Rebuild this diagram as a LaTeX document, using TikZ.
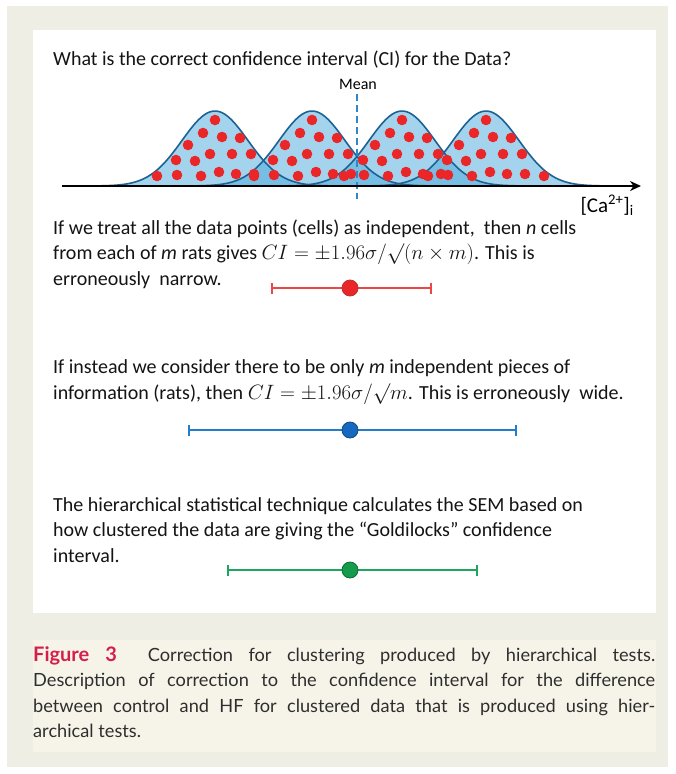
\documentclass[tikz,border=0pt]{standalone}
\usepackage{fontspec}
\setmainfont{Carlito}
\newfontfamily\capfont{Lato}
\usetikzlibrary{arrows.meta,positioning}
\definecolor{pagebeige}{RGB}{239,238,228}
\definecolor{capbeige}{RGB}{246,244,233}
\definecolor{curvefill}{RGB}{75,170,220}
\definecolor{curveline}{RGB}{28,98,148}
\definecolor{cellred}{RGB}{235,38,40}
\definecolor{meanblue}{RGB}{45,135,200}
\definecolor{narrowred}{RGB}{236,70,70}
\definecolor{wideblue}{RGB}{35,125,200}
\definecolor{dotblue}{RGB}{22,105,190}
\definecolor{goldgreen}{RGB}{30,165,95}
\definecolor{dotgreen}{RGB}{20,155,75}
\definecolor{figcrimson}{RGB}{214,30,75}
% cells drawn under every bump, offsets from the peak
\newcommand{\cellpattern}{0/120, -12/133, 7/137, 25/138, -27/145, -5/154,
  17/154, 36/154, -39/160, -20/161, -58/176, -38/175, -14/176, 4/172,
  21/174, 39/174}
\begin{document}
\begin{tikzpicture}[x=1pt, y=-1pt,
  txt/.style={anchor=base west, align=left, inner sep=0pt, text=black!92,
              font=\fontsize{20}{25.5}\selectfont},
  bumpfill/.style={fill=curvefill, fill opacity=0.5},
  bumpline/.style={draw=curveline, line width=1.6pt},
  cell/.style={fill=cellred},
  cibar/.style={line width=1.6pt, {Bar[width=11pt]}-{Bar[width=11pt]}},
  cidot/.style={circle, inner sep=0pt, minimum size=16pt, line width=0.8pt}]

\useasboundingbox (0,0) rectangle (675,774);
\fill[white] (0,0) rectangle (675,774);
\fill[pagebeige] (7,6) rectangle (668,767);
\fill[white] (33,30) rectangle (656,613);
\fill[capbeige] (33,640) rectangle (656,752);

% ---- question and the four clustered bumps ------------------------------
\node[txt] (title) at (53,65)
  {What is the correct confidence interval (CI) for the Data?};
\node[anchor=base, inner sep=0pt, font=\fontsize{16}{18}\selectfont]
  (mean) at (358,89) {Mean};

\foreach \c in {215,312,402,486}
  \fill[bumpfill] plot[domain=-130:130, samples=90, smooth]
    ({\c+\x},{186-75*exp(-0.5*(\x/33)^2)}) -- cycle;
\foreach \c in {215,312,402,486}
  \draw[bumpline] plot[domain=-130:130, samples=90, smooth]
    ({\c+\x},{186-75*exp(-0.5*(\x/33)^2)});
\foreach \c in {215,312,402,486}
  \foreach \dx/\dy in \cellpattern
    \fill[cell] (\c+\dx,\dy) circle (5.3);
\fill[cell] (544,176) circle (5.3);

\coordinate (meantop) at (357,94);
\coordinate (meanbot) at (357,199);
\draw[meanblue, line width=2.8pt, dash pattern=on 7pt off 4pt]
  (meantop) -- (meanbot);

\coordinate (axl) at (62,186);
\coordinate (axr) at (641,186);
\draw[line width=2.4pt, -{Stealth[length=11pt,width=10pt]}] (axl) -- (axr);
\node[anchor=base east, inner sep=0pt, font=\fontsize{21}{24}\selectfont]
  (calab) at (634,212) {[Ca\textsuperscript{2+}]\textsubscript{i}};

% ---- three ways of counting, three intervals ----------------------------
\node[txt] (p1) at (53,285)
  {If we treat all the data points (cells) as independent,\ \ then \textit{n} cells\\
   from each of \textit{m} rats gives $CI=\pm1.96\sigma/\surd(n\times m)$. This is\\
   erroneously\ \ narrow.};
\coordinate (n1) at (271,288);
\coordinate (n2) at (432,288);
\draw[cibar, narrowred] (n1) -- (n2);
\node[cidot, fill=cellred, draw=narrowred!75!black] (ndot) at (350,288) {};

\node[txt] (p2) at (53,399)
  {If instead we consider there to be only \textit{m} independent pieces of\\
   information (rats), then $CI=\pm1.96\sigma/\surd m$. This is erroneously\ \ wide.};
\coordinate (w1) at (188,430);
\coordinate (w2) at (517,430);
\draw[cibar, wideblue] (w1) -- (w2);
\node[cidot, fill=dotblue, draw=dotblue!70!black] (wdot) at (350,430) {};

\node[txt] (p3) at (53,562)
  {The hierarchical statistical technique calculates the SEM based on\\
   how clustered the data are giving the ``Goldilocks'' confidence\\
   interval.};
\coordinate (g1) at (227,570);
\coordinate (g2) at (478,570);
\draw[cibar, goldgreen] (g1) -- (g2);
\node[cidot, fill=dotgreen, draw=dotgreen!70!black] (gdot) at (350,570) {};

% ---- caption -------------------------------------------------------------
\node[anchor=base west, inner sep=0pt, text width=622pt, align=justify,
      text=black!82, font=\capfont\fontsize{18.2}{25.5}\selectfont] (cap) at (33,661)
  {{\fontsize{20}{25.5}\selectfont\bfseries\color{figcrimson}Figure 3}\ \ Correction
   for clustering produced by hierarchical tests.\linebreak Description of
   correction to the confidence interval for the difference\linebreak between
   control and HF for clustered data that is produced using hier-\linebreak
   archical tests.};
\end{tikzpicture}
\end{document}
